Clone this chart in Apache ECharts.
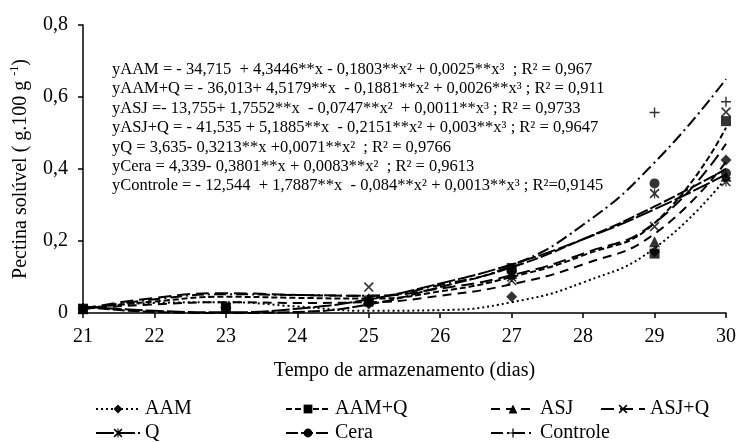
<!DOCTYPE html>
<html>
<head>
<meta charset="utf-8">
<script src="https://cdn.jsdelivr.net/npm/echarts@6/dist/echarts.min.js"></script>
<style>
  html, body { margin: 0; padding: 0; background: #ffffff; }
  #chart { width: 737px; height: 443px; }
</style>
</head>
<body>
<div id="chart"></div>
<script>
// Storage days where samples were measured
const sampleDays = [21, 23, 25, 27, 29, 30];
// Days along which the fitted curves are traced
const curveDays = [21, 22, 23, 24, 25, 26, 27, 28, 29, 30];

// Measured soluble pectin (g.100 g-1)
const obsAAM      = [0.012, 0.015, 0.025, 0.045, 0.170, 0.425];
const obsAAMQ     = [0.012, 0.015, 0.035, 0.125, 0.165, 0.533];
const obsASJ      = [0.012, 0.015, 0.040, 0.110, 0.198, 0.380];
const obsASJQ     = [0.012, 0.015, 0.072, 0.090, 0.240, 0.558];
const obsQ        = [0.012, 0.015, 0.030, 0.100, 0.332, 0.365];
const obsCera     = [0.012, 0.015, 0.030, 0.120, 0.360, 0.388];
const obsControle = [0.012, 0.015, 0.035, 0.115, 0.557, 0.587];

// Fitted regression curves
const fitAAM      = [0.012, 0.028, 0.030, 0.018, 0.006, 0.008, 0.030, 0.085, 0.180, 0.375];
const fitAAMQ     = [0.012, 0.032, 0.045, 0.042, 0.040, 0.060, 0.100, 0.160, 0.250, 0.515];
const fitASJ      = [0.012, 0.024, 0.030, 0.028, 0.030, 0.048, 0.080, 0.135, 0.220, 0.420];
const fitASJQ     = [0.012, 0.042, 0.055, 0.050, 0.048, 0.068, 0.105, 0.165, 0.250, 0.470];
const fitQ        = [0.018, 0.006, 0.002, 0.012, 0.038, 0.082, 0.135, 0.205, 0.288, 0.385];
const fitCera     = [0.017, 0.003, 0.000, 0.003, 0.024, 0.072, 0.127, 0.205, 0.296, 0.400];
const fitControle = [0.010, 0.038, 0.052, 0.050, 0.048, 0.078, 0.132, 0.245, 0.418, 0.650];

const treatmentNames = ['AAM', 'AAM+Q', 'ASJ', 'ASJ+Q', 'Q', 'Cera', 'Controle'];
const yTickLabels = ['0', '0,2', '0,4', '0,6', '0,8'];

const equationLines = [
  'yAAM = - 34,715  + 4,3446**x - 0,1803**x² + 0,0025**x³  ; R² = 0,967',
  'yAAM+Q = - 36,013+ 4,5179**x  - 0,1881**x² + 0,0026**x³ ; R² = 0,911',
  'yASJ =- 13,755+ 1,7552**x  - 0,0747**x²  + 0,0011**x³ ; R² = 0,9733',
  'yASJ+Q = - 41,535 + 5,1885**x  - 0,2151**x² + 0,003**x³ ; R² = 0,9647',
  'yQ = 3,635- 0,3213**x +0,0071**x²  ; R² = 0,9766',
  'yCera = 4,339- 0,3801**x + 0,0083**x²  ; R² = 0,9613',
  'yControle = - 12,544  + 1,7887**x  - 0,084**x² + 0,0013**x³ ; R²=0,9145'
];

const SERIF = '"Liberation Serif", "Times New Roman", serif';
const INK = '#000000';

// Marker outlines
const SYM_X = 'path://M0,1.2 L1.2,0 L10,8.8 L8.8,10 Z M8.8,0 L10,1.2 L1.2,10 L0,8.8 Z';
const SYM_PLUS = 'path://M4.3,0 L5.7,0 L5.7,4.3 L10,4.3 L10,5.7 L5.7,5.7 L5.7,10 L4.3,10 L4.3,5.7 L0,5.7 L0,4.3 L4.3,4.3 Z';
const SYM_STAR = 'path://M0,1.2 L1.2,0 L10,8.8 L8.8,10 Z M8.8,0 L10,1.2 L1.2,10 L0,8.8 Z M4.4,0 L5.6,0 L5.6,10 L4.4,10 Z';

const styles = {
  'AAM':      { fit: fitAAM,      obs: obsAAM,      symbol: 'diamond',  size: 11, dash: [2, 3] },
  'AAM+Q':    { fit: fitAAMQ,     obs: obsAAMQ,     symbol: 'rect',     size: 10, dash: [6, 3] },
  'ASJ':      { fit: fitASJ,      obs: obsASJ,      symbol: 'triangle', size: 11, dash: [9, 6] },
  'ASJ+Q':    { fit: fitASJQ,     obs: obsASJQ,     symbol: SYM_X,      size: 10, dash: [13, 6] },
  'Q':        { fit: fitQ,        obs: obsQ,        symbol: SYM_STAR,   size: 10, dash: [18, 3] },
  'Cera':     { fit: fitCera,     obs: obsCera,     symbol: 'circle',   size: 10, dash: [12, 3] },
  'Controle': { fit: fitControle, obs: obsControle, symbol: SYM_PLUS,   size: 10, dash: [12, 4, 2, 4] }
};

const series = [];
treatmentNames.forEach(function (name) {
  const s = styles[name];
  series.push({
    name: name,
    type: 'line',
    smooth: true,
    symbol: s.symbol,
    showSymbol: false,
    color: INK,
    lineStyle: { color: INK, width: 2, type: s.dash },
    itemStyle: { color: INK },
    data: curveDays.map(function (d, i) { return [d, s.fit[i]]; }),
    silent: true,
    z: 2
  });
  series.push({
    name: name + ' obs',
    type: 'scatter',
    symbol: s.symbol,
    symbolSize: s.size,
    itemStyle: { color: INK },
    data: sampleDays.map(function (d, i) { return [d, s.obs[i]]; }),
    silent: true,
    z: 3
  });
});

// One legend block per treatment, arranged in two rows
const legendSlots = [
  { left: 95, top: 399 }, { left: 285, top: 399 }, { left: 490, top: 399 }, { left: 600, top: 399 },
  { left: 95, top: 423 }, { left: 285, top: 423 }, { left: 490, top: 423 }
];
const legends = treatmentNames.map(function (name, i) {
  return {
    data: [name],
    left: legendSlots[i].left,
    top: legendSlots[i].top,
    orient: 'horizontal',
    itemWidth: 44,
    itemHeight: 11,
    itemGap: 0,
    selectedMode: false,
    padding: 0,
    textStyle: { fontFamily: SERIF, fontSize: 20, color: INK },
    lineStyle: { width: 2 }
  };
});

const chart = echarts.init(document.getElementById('chart'), null, { renderer: 'canvas' });
chart.setOption({
  backgroundColor: '#ffffff',
  animation: false,
  grid: { left: 83, right: 11, top: 25, bottom: 130, containLabel: false, outerBoundsMode: 'none' },
  legend: legends,
  xAxis: {
    type: 'value',
    min: 21,
    max: 30,
    interval: 1,
    name: 'Tempo de armazenamento (dias)',
    nameLocation: 'middle',
    nameGap: 48,
    nameTextStyle: { fontFamily: SERIF, fontSize: 20, color: INK },
    axisLine: { lineStyle: { color: INK, width: 1.5 } },
    axisTick: { show: true, inside: false, length: 5, lineStyle: { color: INK, width: 1.5 } },
    axisLabel: { fontFamily: SERIF, fontSize: 20, color: INK, margin: 14 },
    splitLine: { show: false }
  },
  yAxis: {
    type: 'value',
    min: 0,
    max: 0.8,
    interval: 0.2,
    name: '{t|Pectina solúvel ( g.100 g }{s|-1}{t|)}',
    nameLocation: 'middle',
    nameGap: 50,
    nameRotate: 90,
    nameTextStyle: {
      fontFamily: SERIF, color: INK,
      rich: {
        t: { fontFamily: SERIF, fontSize: 20, lineHeight: 24, color: INK },
        s: { fontFamily: SERIF, fontSize: 12, lineHeight: 12, verticalAlign: 'top', color: INK }
      }
    },
    axisLine: { show: true, lineStyle: { color: INK, width: 1.5 } },
    axisTick: { show: true, inside: false, length: 5, lineStyle: { color: INK, width: 1.5 } },
    axisLabel: {
      fontFamily: SERIF, fontSize: 20, color: INK, margin: 15,
      formatter: function (v) { return yTickLabels[Math.round(v / 0.2)]; }
    },
    splitLine: { show: false }
  },
  graphic: [{
    type: 'text',
    left: 112,
    top: 60,
    silent: true,
    style: {
      text: equationLines.join('\n'),
      fontFamily: SERIF,
      fontSize: 16.5,
      lineHeight: 19.4,
      fill: INK
    }
  }],
  series: series
});
</script>
</body>
</html>
